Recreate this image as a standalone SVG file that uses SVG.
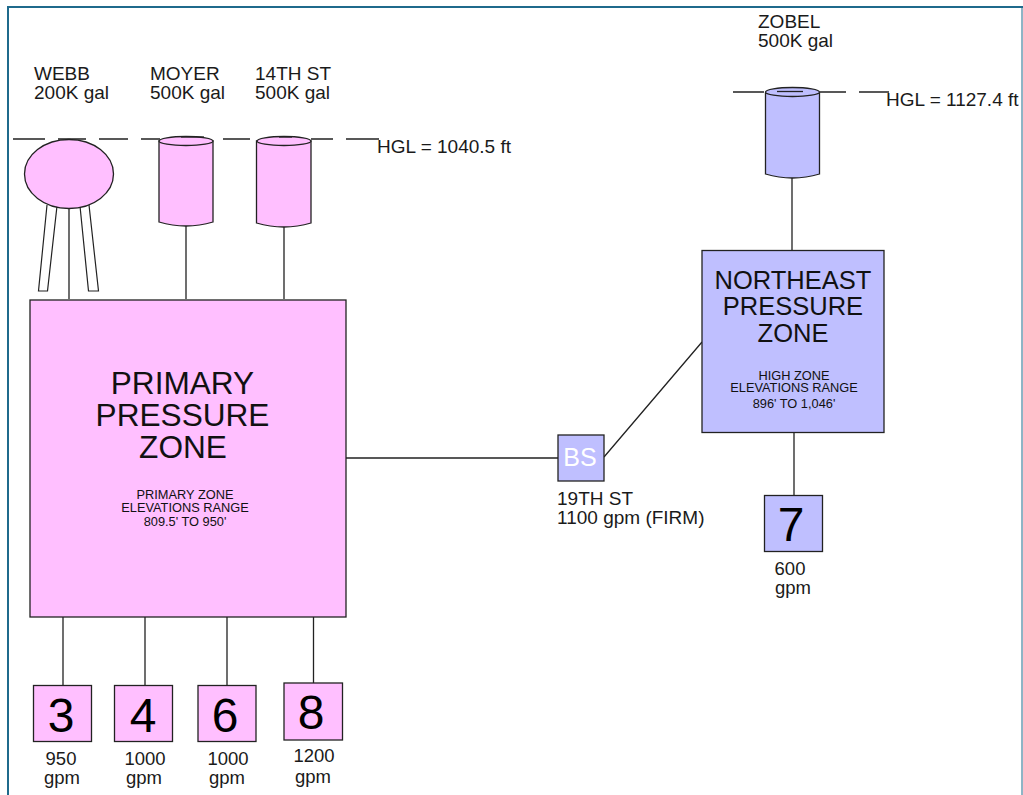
<svg xmlns="http://www.w3.org/2000/svg" width="1023" height="795" viewBox="0 0 1023 795">
<style>
text{font-family:"Liberation Sans",Arial,sans-serif;fill:#1a1a1a}
.l{font-size:19px}
.m{font-size:18.500px}
.c{text-anchor:middle}
.s{font-size:12.800px;text-anchor:middle;fill:#111;textLength:auto}
.z{font-size:31.600px;text-anchor:middle;fill:#111}
.z2{font-size:25.500px;text-anchor:middle;fill:#111}
.n{font-size:48px;text-anchor:middle;fill:#000}
.p{fill:#ffbfff;stroke:#222;stroke-width:1.300}
.b{fill:#bfbfff;stroke:#222;stroke-width:1.300}
.ln{fill:none;stroke:#222;stroke-width:1.300}
</style>
<rect width="1023" height="795" fill="#fff"/>
<path d="M8 795V7H1023" fill="none" stroke="#1f6a8c" stroke-width="2"/>
<path d="M1022 7V795" fill="none" stroke="#1f6a8c" stroke-width="1"/>
<g id="connectors">
<path class="ln" d="M69 208V299M186 226V299M284 227V299M63 617V685M145 617V685M227 617V685M313.500 617V683M792 178V250M346 458H558M604 457L702 342M794 433V495"/>
<path class="ln" d="M13 139H45M58 139H86M99 139H128M141 139H160M223 139H250M311 139H333M346 139H379"/>
<path class="ln" d="M733 92H764M820 92H846M859 92H889"/>
</g>
<g id="webb">
<path d="M47 205L38.500 291H47.500L57 206M80 206L88.500 291H98.500L89 205" fill="#fff" stroke="#222" stroke-width="1.200"/>
<ellipse class="p" cx="69" cy="174" rx="44.500" ry="34.500"/>
<text class="l" x="34" y="80">WEBB</text><text class="l" x="34" y="99">200K gal</text>
</g>
<g id="moyer">
<path class="p" d="M159 141V222Q186 230 213 222V141Z"/>
<ellipse class="p" cx="186" cy="141" rx="27" ry="4.500"/>
<path class="ln" d="M181 137H204"/>
<text class="l" x="150" y="80">MOYER</text><text class="l" x="150" y="99">500K gal</text>
</g>
<g id="st14">
<path class="p" d="M256.500 141V223Q284 231 311 223V141Z"/>
<ellipse class="p" cx="284" cy="141" rx="27" ry="4.500"/>
<path class="ln" d="M279 137H292"/>
<text class="l" x="255" y="80">14TH ST</text><text class="l" x="255" y="99">500K gal</text>
</g>
<text class="l" x="377" y="153">HGL = 1040.5 ft</text>
<g id="zobel">
<path class="b" d="M765.500 93V174Q792.500 182 819.500 174V93Z"/>
<ellipse class="b" cx="792.500" cy="92" rx="27" ry="4.500"/>
<path class="ln" d="M777 91.500H803"/>
<text class="l" x="758" y="28">ZOBEL</text><text class="l" x="758" y="47">500K gal</text>
</g>
<text class="l" x="886" y="106">HGL = 1127.4 ft</text>
<g id="primary">
<rect class="p" x="30" y="300" width="316" height="317"/>
<text class="z" x="182.500" y="394">PRIMARY</text>
<text class="z" x="182.500" y="426">PRESSURE</text>
<text class="z" x="183" y="458">ZONE</text>
<text class="s" x="185" y="499">PRIMARY ZONE</text>
<text class="s" x="185" y="512">ELEVATIONS RANGE</text>
<text class="s" x="185" y="526">809.5' TO 950'</text>
</g>
<g id="northeast">
<rect class="b" x="702" y="250.500" width="182" height="182"/>
<text class="z2" x="793" y="289">NORTHEAST</text>
<text class="z2" x="793" y="315">PRESSURE</text>
<text class="z2" x="793" y="342">ZONE</text>
<text class="s" x="794" y="380">HIGH ZONE</text>
<text class="s" x="794" y="392">ELEVATIONS RANGE</text>
<text class="s" x="794" y="408">896' TO 1,046'</text>
</g>
<g id="bs">
<rect class="b" x="558" y="435" width="46" height="46"/>
<text x="580" y="466" text-anchor="middle" font-size="25" style="fill:#fff">BS</text>
<text class="l" x="557" y="505">19TH ST</text><text class="l" x="557" y="524">1100 gpm (FIRM)</text>
</g>
<g id="p3"><rect class="p" x="33.500" y="685.500" width="58" height="56"/><text class="n" x="61" y="732">3</text>
<text class="m c" x="61" y="765">950</text><text class="m c" x="62" y="784">gpm</text></g>
<g id="p4"><rect class="p" x="114.500" y="685.500" width="58" height="56"/><text class="n" x="143" y="732">4</text>
<text class="m c" x="145" y="765">1000</text><text class="m c" x="144" y="784">gpm</text></g>
<g id="p6"><rect class="p" x="198" y="685.500" width="58" height="56"/><text class="n" x="225" y="732">6</text>
<text class="m c" x="228" y="765">1000</text><text class="m c" x="227" y="784">gpm</text></g>
<g id="p8"><rect class="p" x="284" y="683" width="58.500" height="57"/><text class="n" x="311" y="729">8</text>
<text class="m c" x="314" y="762">1200</text><text class="m c" x="313" y="783">gpm</text></g>
<g id="p7"><rect class="b" x="764.500" y="495.500" width="58" height="56"/><text class="n" x="791" y="541">7</text>
<text class="m c" x="790" y="575">600</text><text class="m c" x="793" y="594">gpm</text></g>
</svg>
